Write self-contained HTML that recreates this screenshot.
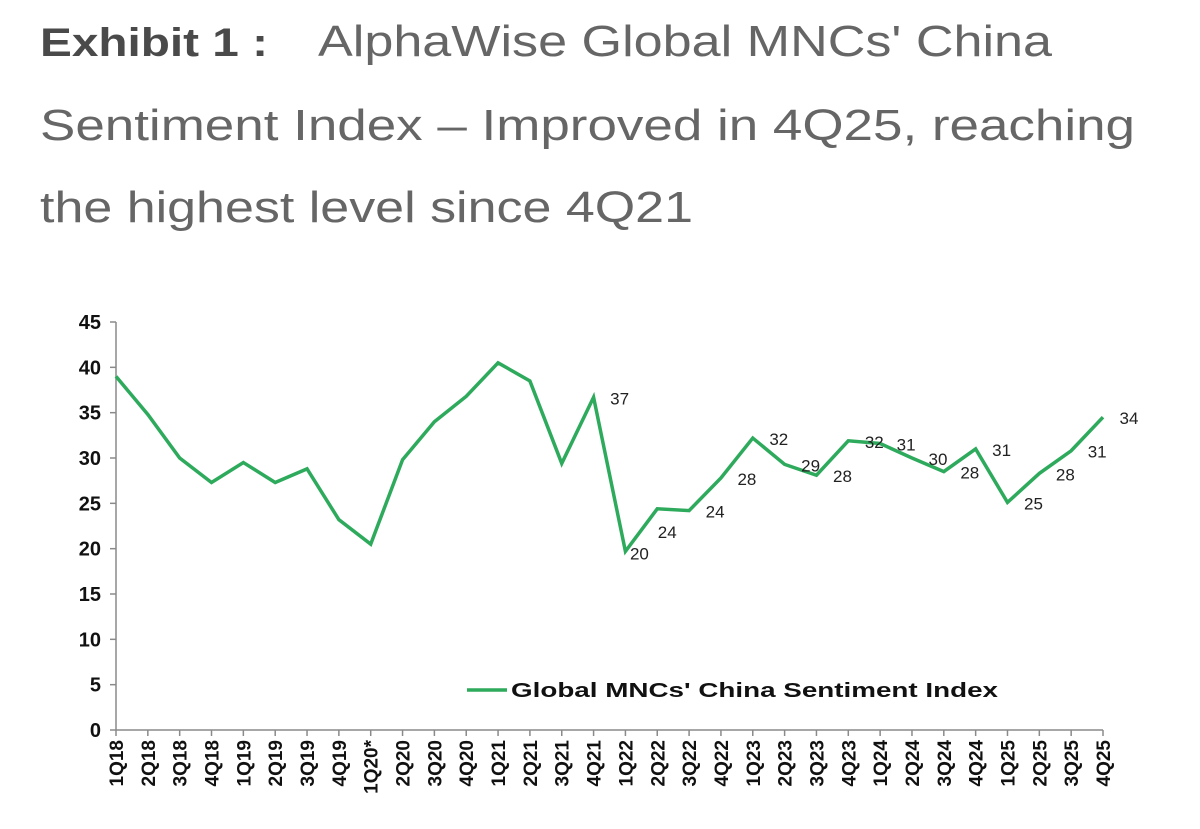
<!DOCTYPE html>
<html><head><meta charset="utf-8"><style>
body{margin:0;background:#fff;width:1200px;height:829px;overflow:hidden}
svg{display:block}
</style></head><body>
<svg id="c" width="1200" height="829">
<g font-family="Liberation Sans, sans-serif" fill="#4a4a4a">
<text x="40" y="56" font-size="40" font-weight="bold" textLength="228" lengthAdjust="spacingAndGlyphs">Exhibit 1 :</text>
<text x="318" y="56" font-size="44" fill="#666" textLength="734" lengthAdjust="spacingAndGlyphs">AlphaWise Global MNCs' China</text>
<text x="40" y="140" font-size="44" fill="#666" textLength="1095" lengthAdjust="spacingAndGlyphs">Sentiment Index – Improved in 4Q25, reaching</text>
<text x="40" y="222" font-size="44" fill="#666" textLength="653" lengthAdjust="spacingAndGlyphs">the highest level since 4Q21</text>
</g>
<g id="plot"></g>
</svg>
<script>
const categories=["1Q18","2Q18","3Q18","4Q18","1Q19","2Q19","3Q19","4Q19","1Q20*","2Q20","3Q20","4Q20","1Q21","2Q21","3Q21","4Q21","1Q22","2Q22","3Q22","4Q22","1Q23","2Q23","3Q23","4Q23","1Q24","2Q24","3Q24","4Q24","1Q25","2Q25","3Q25","4Q25"];
const values=[39,34.8,30,27.3,29.5,27.3,28.8,23.2,20.5,29.8,34,36.8,40.5,38.5,29.4,36.7,19.7,24.4,24.2,27.8,32.2,29.3,28.1,31.9,31.6,30,28.5,31,25.1,28.3,30.8,34.5];
const labelStart=15;
const pointLabels=["37","20","24","24","28","32","29","28","32","31","30","28","31","25","28","31","34"];
const yTicks=[0,5,10,15,20,25,30,35,40,45];
const NS="http://www.w3.org/2000/svg";
const g=document.getElementById('plot');
const X0=116,X1=1103,Y0=730,Y1=322,YMAX=45;
const x=i=>X0+i*(X1-X0)/(categories.length-1);
const y=v=>Y0-v*(Y0-Y1)/YMAX;
function mk(t,a){const e=document.createElementNS(NS,t);for(const k in a)e.setAttribute(k,a[k]);g.appendChild(e);return e;}
let e=mk('line',{x1:X0,y1:Y1,x2:X0,y2:Y0,stroke:'#8a8a8a','stroke-width':1.5});


e=mk('line',{x1:X0,y1:Y0,x2:X1,y2:Y0,stroke:'#8a8a8a','stroke-width':1.5});


yTicks.forEach(v=>{
 let t=mk('line',{x1:X0-6,y1:y(v),x2:X0,y2:y(v),stroke:'#8a8a8a','stroke-width':1.5});
 
 
 let l=mk('text',{x:101,y:y(v)+7,'text-anchor':'end','font-family':'Liberation Sans, sans-serif','font-size':20,'font-weight':'bold',fill:'#111'});
 l.textContent=v;
 
 
});
categories.forEach((c,i)=>{
 let t=mk('line',{x1:x(i),y1:Y0,x2:x(i),y2:Y0+6,stroke:'#8a8a8a','stroke-width':1.5});
 
 
 let l=mk('text',{transform:`translate(${x(i)+7},${Y0+10}) rotate(-90)`,'text-anchor':'end','font-family':'Liberation Sans, sans-serif','font-size':19,'font-weight':'bold',fill:'#111'});
 l.textContent=c;
 
 
});
const p=mk('polyline',{points:values.map((v,i)=>x(i)+','+y(v)).join(' '),fill:'none',stroke:'#2eaa5c','stroke-width':3.5,'stroke-linejoin':'miter'});


pointLabels.forEach((s,k)=>{
 const i=labelStart+k;
 let dx=26,dy=7;
 if(k===2){dx=10;dy=29;}
 if(k===1){dx=14;dy=8;}
 const l=mk('text',{x:x(i)+dx,y:y(values[i])+dy,'text-anchor':'middle','font-family':'Liberation Sans, sans-serif','font-size':17,fill:'#222'});
 l.textContent=s;
 
 
});
e=mk('line',{x1:467,y1:690,x2:507,y2:690,stroke:'#2eaa5c','stroke-width':3.5});


e=mk('text',{x:511,y:697,'font-family':'Liberation Sans, sans-serif','font-size':20,'font-weight':'bold',fill:'#111',textLength:487,lengthAdjust:'spacingAndGlyphs'});
e.textContent="Global MNCs' China Sentiment Index";


</script>
</body></html>
